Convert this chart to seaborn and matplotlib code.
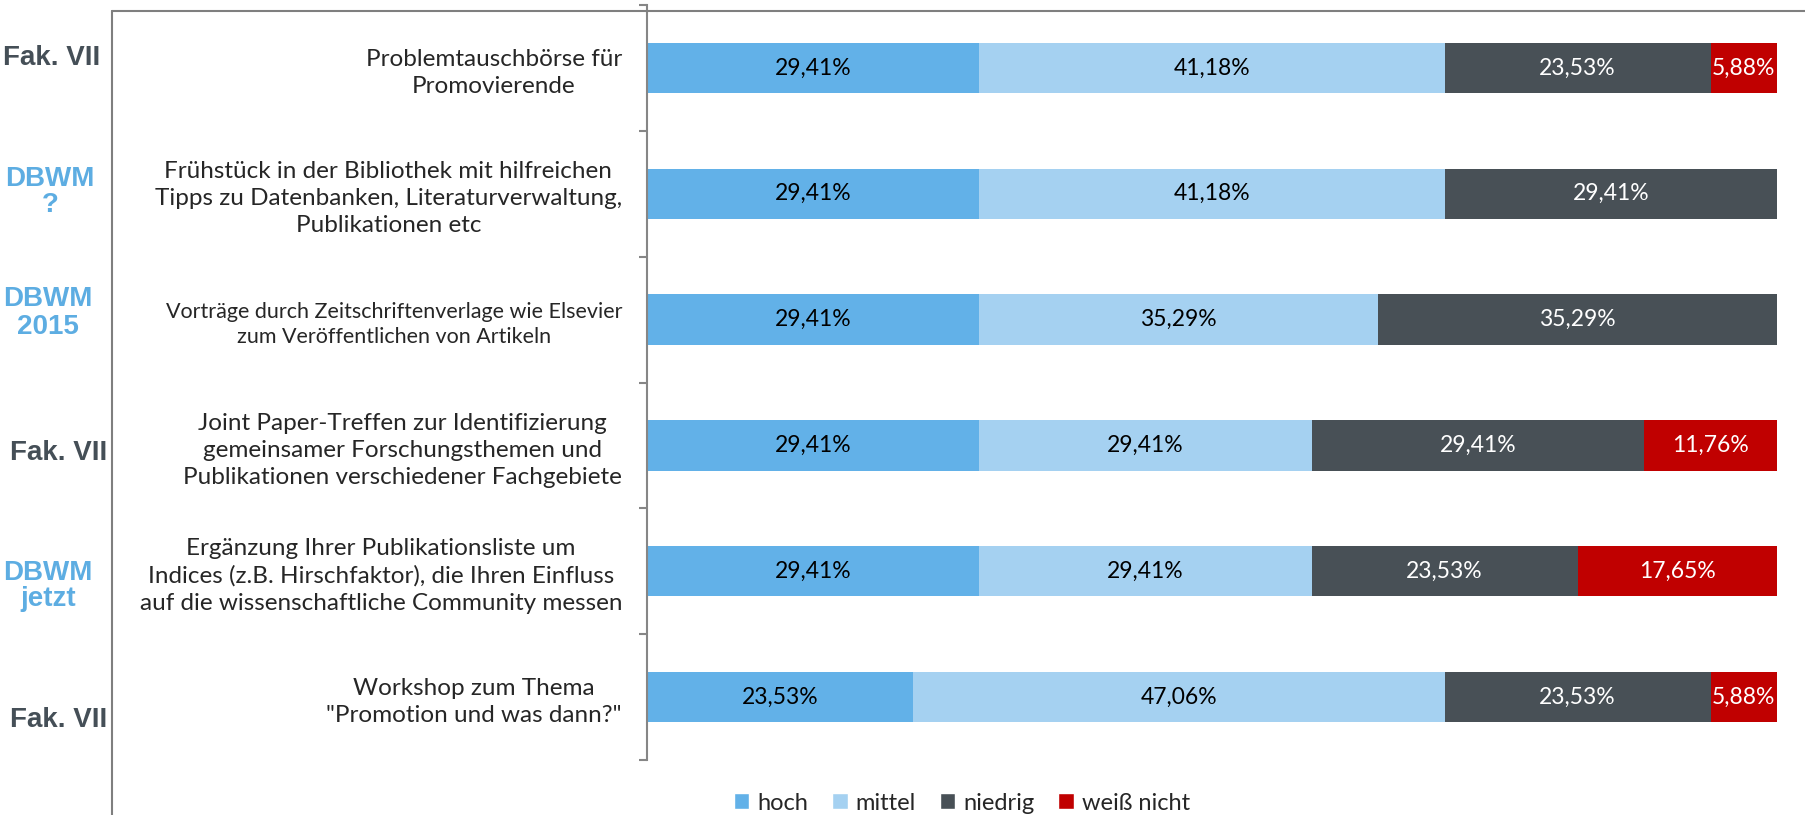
import numpy as np
import pandas as pd
import seaborn as sns
import matplotlib.pyplot as plt
from matplotlib.lines import Line2D
from matplotlib.patches import Patch

# Daten
items = [
    "Problemtauschbörse für\nPromovierende",
    "Frühstück in der Bibliothek mit hilfreichen\nTipps zu Datenbanken, Literaturverwaltung,\nPublikationen etc",
    "Vorträge durch Zeitschriftenverlage wie Elsevier\nzum Veröffentlichen von Artikeln",
    "Joint Paper-Treffen zur Identifizierung\ngemeinsamer Forschungsthemen und\nPublikationen verschiedener Fachgebiete",
    "Ergänzung Ihrer Publikationsliste um\nIndices (z.B. Hirschfaktor), die Ihren Einfluss\nauf die wissenschaftliche Community messen",
    "Workshop zum Thema\n\"Promotion und was dann?\"",
]
hoch = [29.41, 29.41, 29.41, 29.41, 29.41, 23.53]
mittel = [41.18, 41.18, 35.29, 29.41, 29.41, 47.06]
niedrig = [23.53, 29.41, 35.29, 29.41, 23.53, 23.53]
weiss_nicht = [5.88, 0, 0, 11.76, 17.65, 5.88]
gruppen = ["Fak. VII", "DBWM\n?", "DBWM\n2015", "Fak. VII", "DBWM\njetzt", "Fak. VII"]

series = ["hoch", "mittel", "niedrig", "weiß nicht"]
colors = ["#62B1E8", "#A5D1F1", "#485056", "#C00000"]
text_colors = ["black", "black", "white", "white"]

sns.set_style("white")
plt.rcParams['font.family'] = ['Lato', 'DejaVu Sans']

df = pd.DataFrame({"item": items, "hoch": hoch, "mittel": mittel,
                   "niedrig": niedrig, "weiß nicht": weiss_nicht})
cum = df[series].cumsum(axis=1)

W, H = 1805, 815
fig = plt.figure(figsize=(W / 100, H / 100), dpi=100)
ax = fig.add_axes([647 / W, 1 - 760 / H, (1777 - 647) / W, (760 - 5) / H])

# gestapelte Balken: kumulierte Summen von hinten nach vorne zeichnen
for s, c in reversed(list(zip(series, colors))):
    sns.barplot(x=cum[s], y=df["item"], color=c, width=0.4, saturation=1,
                errorbar=None, orient="h", linewidth=0, ax=ax)

# Werte in die Balken schreiben
for i in range(len(items)):
    left = 0
    for s, tc in zip(series, text_colors):
        v = df[s][i]
        if v > 0:
            ax.text(left + v / 2, i, f"{v:.2f}%".replace(".", ","), ha="center",
                    va="center", color=tc, fontsize=16.5)
        left += v

ax.set_xlim(0, 100)
ax.set_ylim(5.5, -0.5)
ax.set_xlabel("")
ax.set_ylabel("")
ax.set_xticks([])
for sp in ["top", "right", "bottom"]:
    ax.spines[sp].set_visible(False)
ax.spines["left"].set_color("#868686")
ax.spines["left"].set_linewidth(1.5)

ax.set_yticks(range(len(items)))
ax.set_yticklabels(items, fontsize=17.5)
ax.set_yticks(np.arange(-0.5, len(items), 1), minor=True)
ax.tick_params(axis="y", which="major", left=True, length=0, pad=18)
ax.tick_params(axis="y", which="minor", left=True, length=6, width=1.5, color="#868686")
for i, t in enumerate(ax.get_yticklabels()):
    t.set_multialignment("center")
    t.set_linespacing(1.35)
    if i == 2:
        t.set_fontsize(15.5)

# Rahmenlinien links/oben
fig.add_artist(Line2D([112 / W, 112 / W], [0, 1 - 11 / H], color="#7F7F7F", lw=1.5))
fig.add_artist(Line2D([112 / W, 1], [1 - 11 / H, 1 - 11 / H], color="#7F7F7F", lw=1.5))

# Gruppenbeschriftung links
gruppe_pos = [(100, 58, "right"), (50, 192, "center"), (48, 313, "center"),
              (107, 453, "right"), (48, 586, "center"), (107, 720, "right")]
for g, (x, y, ha) in zip(gruppen, gruppe_pos):
    col = "#454F57" if g.startswith("Fak") else "#5DADE2"
    fig.text(x / W, 1 - y / H, g, ha=ha, va="center", fontsize=20, fontweight="bold",
             color=col, family="Liberation Sans", linespacing=1.05)

handles = [Patch(facecolor=c, label=s) for s, c in zip(series, colors)]
fig.legend(handles=handles, loc="center", bbox_to_anchor=(962 / W, 1 - 803 / H),
           ncol=4, frameon=False, fontsize=17, handlelength=0.65, handleheight=0.65,
           handletextpad=0.35, columnspacing=1.0)

fig.savefig("out.png", dpi=100)
